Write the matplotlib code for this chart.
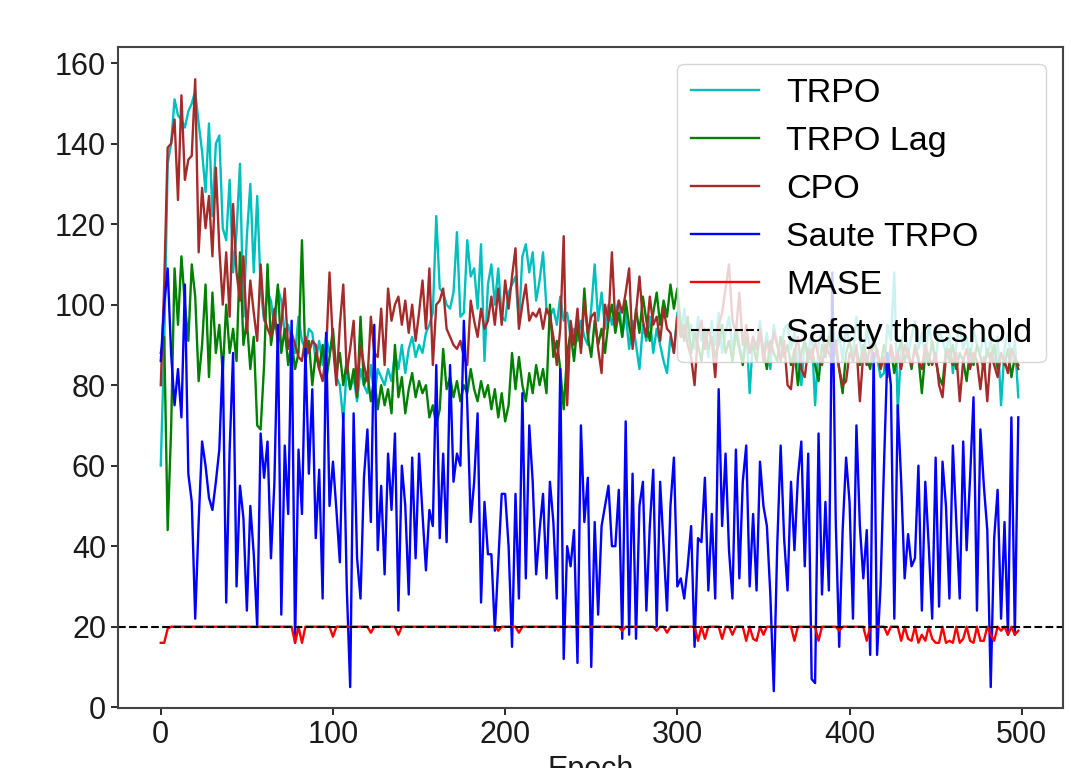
import numpy as np
import matplotlib
matplotlib.use("Agg")
import matplotlib.pyplot as plt

plt.rcParams['font.family'] = ['Liberation Sans', 'DejaVu Sans']

# epochs sampled every 2 epochs
epochs = np.arange(0, 500, 2)

trpo = [60, 90, 135, 140, 151, 147, 146, 144, 148, 150,
        153, 145, 138, 128, 145, 122, 140, 142, 119, 116,
        131, 108, 118, 135, 97, 117, 130, 108, 127, 104,
        96, 103, 101, 94, 104, 101, 93, 95, 91, 88,
        97, 91, 89, 94, 93, 86, 91, 85, 92, 88,
        91, 82, 80, 71, 84, 79, 82, 76, 84, 80,
        78, 85, 77, 84, 82, 80, 84, 81, 88, 84,
        90, 83, 89, 92, 87, 90, 88, 93, 95, 98,
        122, 104, 103, 100, 99, 103, 118, 97, 98, 116,
        107, 109, 99, 115, 86, 105, 110, 100, 109, 97,
        96, 103, 105, 107, 95, 112, 115, 108, 113, 101,
        106, 113, 99, 97, 99, 95, 102, 96, 98, 92,
        94, 91, 96, 92, 90, 99, 110, 96, 103, 94,
        100, 95, 98, 101, 92, 98, 89, 96, 90, 84,
        95, 91, 97, 88, 94, 90, 86, 83, 92, 88,
        98, 92, 99, 91, 95, 89, 97, 91, 94, 87,
        96, 90, 98, 88, 93, 97, 89, 95, 90, 86,
        94, 78, 92, 89, 96, 88, 93, 84, 95, 90,
        87, 94, 95, 89, 93, 86, 80, 91, 88, 93,
        75, 90, 94, 87, 92, 96, 89, 93, 86, 95,
        90, 88, 97, 91, 86, 94, 89, 92, 87, 82,
        83, 95, 91, 108, 73, 90, 94, 88, 92, 96,
        89, 93, 87, 95, 90, 86, 94, 91, 88, 93,
        83, 90, 95, 89, 92, 86, 94, 90, 88, 93,
        87, 91, 85, 92, 75, 89, 93, 86, 91, 77]

trpo_lag = [88, 92, 44, 69, 109, 95, 112, 100, 91, 110,
            102, 81, 90, 105, 82, 103, 88, 95, 83, 100,
            88, 94, 86, 113, 90, 96, 84, 92, 70, 69,
            85, 110, 90, 96, 105, 88, 94, 85, 91, 84,
            88, 116, 86, 91, 80, 88, 84, 90, 81, 87,
            94, 83, 88, 80, 86, 79, 84, 77, 97, 80,
            83, 76, 82, 74, 80, 75, 79, 73, 90, 77,
            82, 73, 79, 83, 77, 81, 78, 80, 72, 75,
            70, 74, 89, 79, 82, 77, 81, 76, 80, 78,
            84, 79, 76, 81, 77, 80, 74, 79, 72, 78,
            71, 75, 88, 79, 87, 80, 76, 83, 78, 85,
            80, 84, 78, 100, 87, 91, 84, 74, 88, 93,
            86, 95, 89, 104, 92, 87, 96, 90, 94, 88,
            96, 100, 93, 98, 92, 101, 95, 90, 99, 93,
            102, 96, 91, 98, 103, 95, 101, 97, 105, 99,
            104, 95, 91, 97, 88, 93, 90, 86, 94, 89,
            92, 87, 90, 95, 88, 91, 86, 93, 89, 85,
            92, 88, 90, 86, 93, 89, 84, 91, 88, 86,
            92, 87, 90, 85, 89, 80, 88, 91, 86, 89,
            85, 81, 90, 87, 92, 86, 89, 84, 78, 88,
            91, 86, 89, 85, 90, 87, 84, 92, 88, 85,
            90, 86, 89, 83, 88, 91, 86, 89, 84, 90,
            87, 78, 88, 85, 91, 86, 82, 80, 89, 86,
            90, 84, 88, 86, 81, 89, 85, 90, 87, 84,
            89, 86, 90, 84, 88, 85, 89, 82, 87, 85]

cpo = [80, 105, 139, 140, 146, 126, 152, 131, 136, 137,
       156, 113, 129, 119, 127, 112, 134, 114, 100, 113,
       97, 125, 108, 101, 112, 93, 106, 98, 91, 110,
       97, 94, 92, 99, 90, 95, 104, 89, 93, 90,
       87, 86, 92, 88, 91, 90, 84, 81, 88, 108,
       90, 80, 95, 105, 83, 89, 96, 78, 90, 85,
       81, 97, 88, 87, 99, 85, 104, 96, 100, 102,
       95, 101, 93, 100, 91, 98, 106, 94, 109, 85,
       100, 101, 104, 94, 92, 90, 89, 91, 87, 85,
       101, 96, 92, 99, 94, 96, 102, 95, 104, 95,
       106, 99, 107, 114, 94, 100, 105, 96, 98, 97,
       99, 94, 99, 97, 92, 85, 94, 117, 75, 96,
       90, 99, 88, 101, 93, 97, 98, 89, 83, 100,
       96, 113, 95, 101, 98, 103, 109, 89, 98, 107,
       96, 92, 102, 95, 97, 91, 99, 94, 93, 88,
       97, 92, 95, 90, 87, 80, 93, 96, 89, 94,
       91, 82, 95, 98, 104, 110, 96, 93, 103, 90,
       95, 88, 92, 89, 94, 86, 91, 88, 93, 90,
       86, 91, 80, 79, 88, 92, 84, 82, 89, 86,
       91, 87, 85, 90, 88, 86, 91, 84, 80, 81,
       88, 86, 90, 76, 88, 85, 90, 86, 89, 84,
       87, 82, 90, 86, 88, 84, 90, 87, 85, 89,
       86, 84, 90, 87, 85, 88, 80, 77, 87, 89,
       85, 88, 76, 86, 89, 84, 88, 86, 79, 87,
       76, 88, 85, 82, 88, 86, 83, 89, 87, 84]

saute_trpo = [86, 100, 109, 88, 75, 84, 72, 105, 58, 51,
              22, 46, 66, 60, 52, 49, 56, 64, 87, 26,
              64, 88, 30, 55, 47, 24, 50, 38, 20, 68,
              57, 66, 37, 56, 95, 23, 65, 48, 96, 16,
              64, 48, 89, 58, 79, 42, 59, 27, 93, 50,
              61, 49, 36, 73, 30, 5, 73, 37, 27, 57,
              69, 46, 95, 39, 55, 33, 63, 49, 68, 24,
              60, 50, 28, 62, 37, 63, 48, 34, 49, 45,
              85, 42, 63, 41, 85, 56, 63, 60, 96, 75,
              46, 56, 73, 26, 51, 38, 38, 19, 36, 53,
              53, 40, 15, 53, 27, 78, 32, 70, 56, 33,
              44, 53, 32, 56, 46, 27, 84, 12, 40, 35,
              44, 11, 70, 46, 57, 10, 46, 23, 45, 50,
              55, 40, 40, 54, 17, 71, 18, 58, 17, 50,
              56, 24, 45, 59, 20, 56, 40, 24, 50, 62,
              30, 32, 27, 35, 45, 15, 42, 41, 57, 29,
              48, 27, 79, 45, 63, 39, 27, 64, 32, 56,
              65, 30, 48, 29, 61, 50, 45, 28, 4, 40,
              65, 42, 29, 56, 39, 57, 66, 35, 63, 7,
              6, 68, 28, 51, 29, 108, 46, 15, 44, 62,
              51, 22, 70, 45, 32, 44, 13, 88, 13, 30,
              60, 88, 80, 22, 75, 56, 32, 43, 35, 37,
              60, 24, 56, 40, 22, 62, 25, 61, 50, 27,
              65, 46, 27, 66, 39, 57, 77, 24, 69, 55,
              44, 5, 42, 54, 22, 46, 18, 72, 18, 72]

mase = [16, 16, 19.5, 20, 20, 20, 20, 20, 20, 20,
        20, 20, 20, 20, 20, 20, 20, 20, 20, 20,
        20, 20, 20, 20, 20, 20, 20, 20, 20, 20,
        20, 20, 20, 20, 20, 20, 20, 20, 20, 16,
        20, 16, 20, 20, 20, 20, 20, 20, 20, 20,
        17.5, 20, 20, 20, 20, 20, 20, 20, 20, 20,
        20, 18.5, 20, 20, 20, 20, 20, 20, 20, 18,
        20, 20, 20, 20, 20, 20, 20, 20, 20, 20,
        20, 20, 20, 20, 20, 20, 20, 20, 20, 20,
        20, 20, 20, 20, 20, 20, 20, 20, 19, 20,
        20, 20, 20, 20, 18.5, 20, 20, 20, 20, 20,
        20, 20, 20, 20, 20, 20, 20, 20, 20, 20,
        20, 20, 20, 20, 20, 20, 20, 20, 20, 20,
        20, 20, 20, 20, 19, 20, 20, 20, 20, 20,
        20, 20, 20, 20, 19, 20, 20, 18.5, 20, 20,
        20, 20, 20, 20, 20, 20, 16.5, 20, 17, 20,
        20, 20, 20, 17, 20, 20, 18, 20, 20, 20,
        16.5, 20, 17, 16.5, 20, 18, 20, 20, 20, 20,
        20, 20, 20, 20, 16.5, 20, 20, 20, 20, 20,
        20, 16.5, 20, 20, 20, 20, 20, 19, 20, 20,
        20, 20, 20, 20, 20, 16.5, 20, 20, 20, 20,
        20, 18, 20, 20, 20, 16.5, 20, 17, 16.5, 20,
        16, 18, 16.5, 20, 17, 16, 16, 20, 16, 16.5,
        16, 20, 16, 17, 20, 16.5, 16, 20, 16.5, 16.5,
        20, 18, 16.5, 20, 19, 20, 18, 20, 18, 19]

threshold = 20

fig = plt.figure(figsize=(10.71, 7.68), dpi=100)
ax = fig.add_axes([0.110, 0.0781, 0.8825, 0.8607])

lw = 1.7
ax.plot(epochs, trpo, color='c', lw=lw, label='TRPO')
ax.plot(epochs, trpo_lag, color='g', lw=lw, label='TRPO Lag')
ax.plot(epochs, cpo, color='brown', lw=lw, label='CPO')
ax.plot(epochs, saute_trpo, color='b', lw=lw, label='Saute TRPO')
ax.plot(epochs, mase, color='r', lw=lw, label='MASE')
ax.axhline(threshold, color='k', ls='--', lw=1.5, label='Safety threshold')

ax.set_xlim(-24.95, 523.95)
ax.set_ylim(-0.2, 164)
ax.set_xticks([0, 100, 200, 300, 400, 500])
ax.set_yticks([0, 20, 40, 60, 80, 100, 120, 140, 160])
ax.tick_params(labelsize=22, colors='#1a1a1a', width=1.3, length=5)
for s in ax.spines.values():
    s.set_color('#444444')
    s.set_linewidth(1.5)
ax.set_xlabel('Epoch', fontsize=22, color='#1a1a1a')

ax.legend(loc='upper right', fontsize=24.5, framealpha=0.8, labelspacing=0.5)

fig.savefig('out.png', dpi=100)
